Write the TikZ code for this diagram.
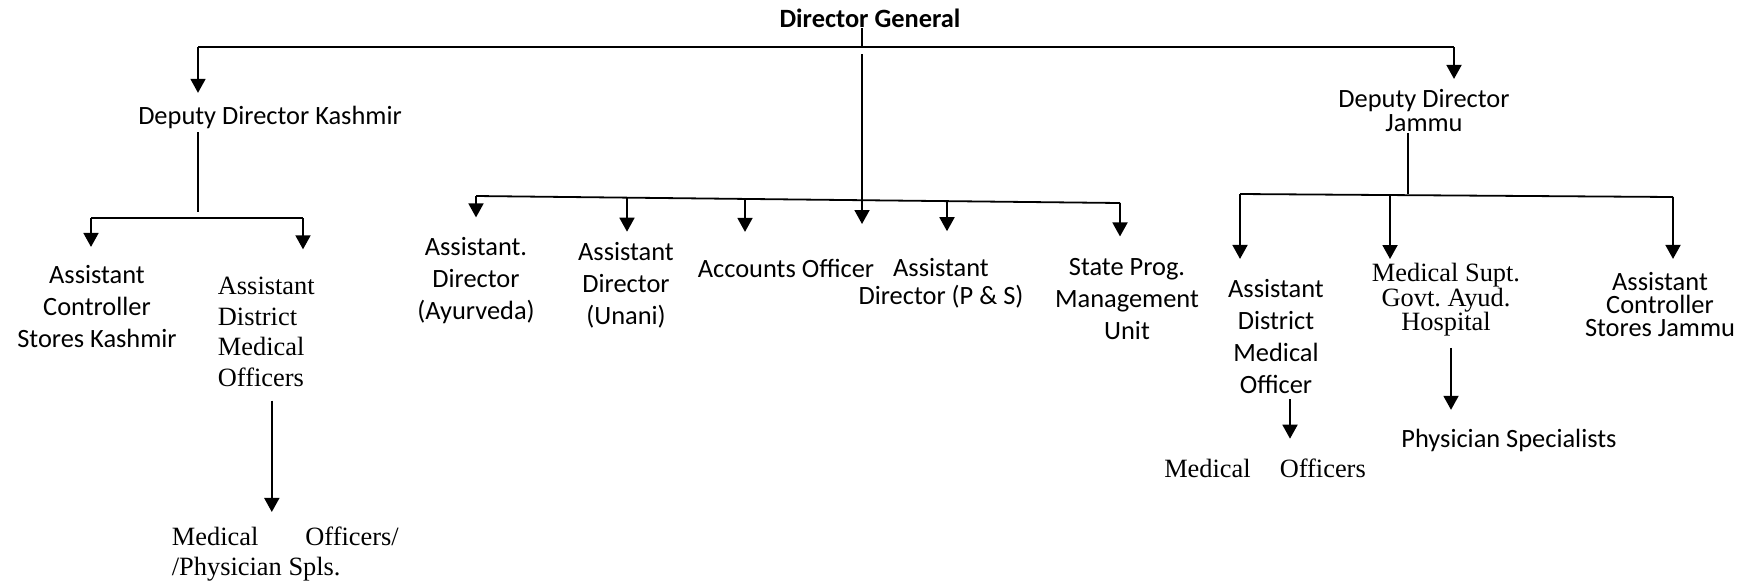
\documentclass[tikz,border=0pt]{standalone}
\usepackage{fontspec}
\setmainfont{Carlito}
\newfontfamily\timesfont{Liberation Serif}
\usepackage{tikz}
\usetikzlibrary{arrows.meta}
\frenchspacing

\tikzset{
  sans/.style={font=\fontsize{13.2}{#1}\selectfont},
  serif/.style={font=\fontsize{13.2}{#1}\selectfont\timesfont},
}

\begin{document}
\begin{tikzpicture}[x=0.5pt,y=-0.5pt,line width=0.9pt,
    >={Triangle[length=7pt,width=7.5pt]},
    every node/.style={inner sep=0pt,align=center,sans=16}]

  \useasboundingbox (0,0) rectangle (1755,585);

  \node[font=\fontsize{13.2}{16}\selectfont\bfseries]
                     (dg)    at (870,18)   {Director General};
  \node              (ddk)   at (270,117)  {Deputy Director Kashmir};
  \node[sans=12]     (ddj)   at (1424,111) {Deputy Director\\Jammu};

  \node              (acsk)  at (97,307)   {Assistant\\Controller\\Stores Kashmir};
  \node[serif=15.3,anchor=west,align=left]
                     (admok) at (217,332)  {Assistant\\District\\Medical\\Officers};
  \node[serif=15,anchor=west,align=left]
                     (mok)   at (171,554)  {Medical\hspace{23.5pt}Officers/\\/Physician Spls.};

  \node              (asa)   at (476,281)  {Assistant.\\Director\\(Ayurveda)};
  \node              (asu)   at (626,285)  {Assistant\\Director\\(Unani)};
  \node              (acc)   at (786,268)  {Accounts Officer};
  \node[sans=14]     (asps)  at (941,283)  {Assistant\\Director (P \& S)};
  \node              (spmu)  at (1127,299) {State Prog.\\Management\\Unit};

  \node              (admoj) at (1276,336) {Assistant\\District\\Medical\\Officer};
  \node[serif=12.25] (msh)   at (1446,300) {Medical Supt.\\Govt. Ayud.\\Hospital};
  \node[sans=11.5]   (acsj)  at (1660,305) {Assistant\\Controller\\Stores Jammu};
  \node[serif=15]    (moj)   at (1265,468) {Medical\hspace{14.5pt}Officers};
  \node              (ps)    at (1509,440) {Physician Specialists};

  \coordinate (tl) at (198,47);
  \coordinate (tc) at (862,47);
  \coordinate (tr) at (1454,47);
  \coordinate (mc) at (862,224);
  \coordinate (kb) at (198,212);
  \coordinate (kl) at (91,218);
  \coordinate (kr) at (303,218);
  \coordinate (m1) at (476,196);
  \coordinate (m2) at (627,198);
  \coordinate (m3) at (745,199);
  \coordinate (m4) at (947,201);
  \coordinate (m5) at (1120,203);
  \coordinate (jb) at (1408,194);
  \coordinate (j1) at (1240,194);
  \coordinate (j2) at (1390,194);
  \coordinate (j3) at (1673,197);
  \coordinate (ak) at ([xshift=2.75pt]admok.south);
  \coordinate (aj) at ([xshift=7pt]admoj.south);
  \coordinate (hs) at ([xshift=2.5pt]msh.south);

  \draw (dg.south -| tc) -- (tc);
  \draw (tl) -- (tr);
  \draw[shorten <=1.5pt] (ddk.south -| kb) -- (kb);
  \draw (kl) -- (kr);
  \draw (m1) -- (m5);
  \draw (ddj.south -| jb) -- (jb);
  \draw (j1) -- (j3);

  \path[->]
    (tl) edge[shorten >=6pt]     (tl |- ddk.north)
    (tr) edge[shorten >=5pt]     (tr |- ddj.north)
    (tc) edge[shorten <=3.5pt]   (mc)
    (kl) edge[shorten >=9pt]     (kl |- acsk.north)
    (kr) edge[shorten >=13.5pt]  (kr |- admok.north)
    (ak) edge[shorten <=6.5pt,shorten >=7pt]  (ak |- mok.north)
    (m1) edge[shorten >=9.75pt]  (m1 |- asa.north)
    (m2) edge[shorten >=4.75pt]  (m2 |- asu.north)
    (m3) edge[shorten >=13pt]    (m3 |- acc.north)
    (m4) edge[shorten >=13pt]    (m4 |- asps.north)
    (m5) edge[shorten >=10.5pt]  (m5 |- spmu.north)
    (j1) edge[shorten >=9.5pt]   (j1 |- admoj.north)
    (j2) edge[shorten >=1.8pt]   (j2 |- msh.north)
    (j3) edge[shorten >=6.5pt]   (j3 |- acsj.north)
    (aj) edge[shorten <=2.5pt,shorten >=9.5pt] (aj |- moj.north)
    (hs) edge[shorten <=5.3pt,shorten >=9pt]   (hs |- ps.north);
\end{tikzpicture}
\end{document}
